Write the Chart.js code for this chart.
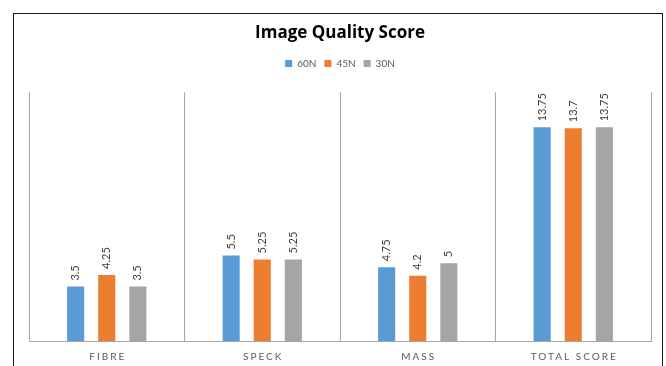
<!DOCTYPE html>
<html>
<head>
<meta charset="utf-8">
<script src="https://cdn.jsdelivr.net/npm/chart.js@4"></script>
<style>
  html, body { margin: 0; padding: 0; background: #fff; }
  #wrap { width: 666px; height: 366px; }
</style>
</head>
<body>
<div id="wrap"><canvas id="c" width="666" height="366"></canvas></div>
<script>
// Scores per test category
const categories = ['FIBRE', 'SPECK', 'MASS', 'TOTAL SCORE'];
const seriesNames = ['60N', '45N', '30N'];
const values60N = [3.5, 5.5, 4.75, 13.75];
const values45N = [4.25, 5.25, 4.2, 13.7];
const values30N = [3.5, 5.25, 5, 13.75];

const seriesColors = ['#5B9BD5', '#ED7D31', '#A5A5A5'];
const FONT = 'Lato, "Open Sans", "Liberation Sans", sans-serif';
const TITLE_FONT = '"Open Sans", Lato, "Liberation Sans", sans-serif';

// White background and the thin outer frame
const framePlugin = {
  id: 'frame',
  beforeDraw(chart) {
    const ctx = chart.ctx;
    ctx.save();
    ctx.fillStyle = '#fff';
    ctx.fillRect(0, 0, chart.width, chart.height);
    ctx.strokeStyle = '#1a1a1a';
    ctx.lineWidth = 1;
    ctx.strokeRect(13.5, 13.5, 649, 420);
    ctx.restore();
  }
};

// Leave extra room between the legend and the plot area
const legendGapPlugin = {
  id: 'legendGap',
  beforeInit(chart) {
    const legend = chart.legend;
    const origFit = legend.fit;
    legend.fit = function () {
      origFit.call(this);
      this.height += 14;
    };
  }
};

// Vertical value labels above each bar
const valueLabelPlugin = {
  id: 'valueLabels',
  afterDatasetsDraw(chart) {
    const ctx = chart.ctx;
    ctx.save();
    ctx.fillStyle = '#404040';
    ctx.font = '11px ' + FONT;
    ctx.textAlign = 'left';
    ctx.textBaseline = 'middle';
    chart.data.datasets.forEach((ds, i) => {
      const meta = chart.getDatasetMeta(i);
      meta.data.forEach((bar, j) => {
        ctx.save();
        ctx.translate(bar.x, bar.y - 6);
        ctx.rotate(-Math.PI / 2);
        ctx.fillText(String(ds.data[j]), 0, 0);
        ctx.restore();
      });
    });
    ctx.restore();
  }
};

// Letter-spaced category names under the axis
const categoryLabelPlugin = {
  id: 'categoryLabels',
  afterDraw(chart) {
    const ctx = chart.ctx;
    const xScale = chart.scales.x;
    ctx.save();
    ctx.fillStyle = '#595959';
    ctx.font = '10px ' + FONT;
    ctx.letterSpacing = '2px';
    ctx.textAlign = 'center';
    ctx.textBaseline = 'middle';
    chart.data.labels.forEach((label, i) => {
      const x = xScale.getPixelForValue(i);
      ctx.fillText(label, x + 1, chart.chartArea.bottom + 16);
    });
    ctx.restore();
  }
};

new Chart(document.getElementById('c'), {
  type: 'bar',
  data: {
    labels: categories,
    datasets: [
      { label: seriesNames[0], data: values60N, backgroundColor: seriesColors[0] },
      { label: seriesNames[1], data: values45N, backgroundColor: seriesColors[1] },
      { label: seriesNames[2], data: values30N, backgroundColor: seriesColors[2] }
    ]
  },
  options: {
    responsive: false,
    animation: false,
    events: [],
    datasets: {
      bar: { barPercentage: 0.55, categoryPercentage: 0.6, borderWidth: 0 }
    },
    layout: { padding: { top: 14, left: 29, right: 15, bottom: 25 } },
    scales: {
      x: {
        offset: true,
        grid: { display: true, offset: true, drawTicks: false, color: '#a6a6a6', lineWidth: 1 },
        border: { display: true, color: '#a6a6a6' },
        ticks: { display: false }
      },
      y: {
        display: false,
        min: 0,
        max: 16
      }
    },
    plugins: {
      title: {
        display: true,
        text: 'Image Quality Score',
        color: '#000',
        font: { family: TITLE_FONT, size: 17, weight: 'bold' },
        padding: { top: 9, bottom: 7 }
      },
      legend: {
        display: true,
        position: 'top',
        labels: {
          boxWidth: 7,
          boxHeight: 7,
          padding: 8,
          color: '#595959',
          font: { family: FONT, size: 10 }
        }
      },
      tooltip: { enabled: false }
    }
  },
  plugins: [framePlugin, legendGapPlugin, valueLabelPlugin, categoryLabelPlugin]
});
</script>
</body>
</html>
